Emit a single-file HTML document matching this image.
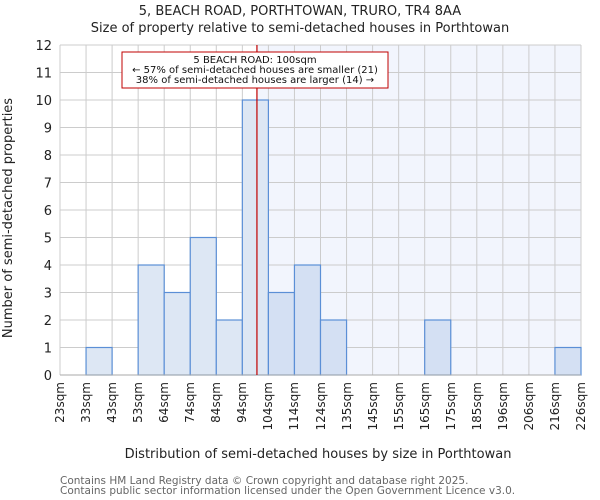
<!DOCTYPE html>
<html><head><meta charset="utf-8"><style>
body{margin:0;background:#fff;font-family:"DejaVu Sans","Liberation Sans",sans-serif}
svg text{font-family:"DejaVu Sans","Liberation Sans",sans-serif}
#wrap{position:relative;width:600px;height:500px;overflow:hidden}
.xt{position:absolute;top:382px;font-size:12px;color:#222;writing-mode:vertical-rl;transform:rotate(180deg);line-height:14px;white-space:nowrap}
</style></head><body>
<div id="wrap">
<svg id="c" width="600" height="500" xmlns="http://www.w3.org/2000/svg" style="position:absolute;left:0;top:0"></svg>
</div>
<script>
const tickLabels=["23sqm","33sqm","43sqm","53sqm","64sqm","74sqm","84sqm","94sqm","104sqm","114sqm","124sqm","135sqm","145sqm","155sqm","165sqm","175sqm","185sqm","196sqm","206sqm","216sqm","226sqm"];
const counts=[0,1,0,4,3,5,2,10,3,4,2,0,0,0,2,0,0,0,0,1];
const yTicks=[0,1,2,3,4,5,6,7,8,9,10,11,12];
const markerBin=7.56;
const NS="http://www.w3.org/2000/svg";
const svg=document.getElementById('c');
const wrap=document.getElementById('wrap');
const L=60,R=581,T=45,B=375,yMax=12;
const bw=(R-L)/counts.length;
const xs=i=>L+i*bw;
const ys=v=>B-(v/yMax)*(B-T);
function mk(tag,attrs,txt){const e=document.createElementNS(NS,tag);for(const k in attrs)e.setAttribute(k,attrs[k]);if(txt!==undefined)e.textContent=txt;svg.appendChild(e);return e;}
const mx=xs(markerBin);
let e=mk('rect',{x:mx,y:T,width:R-mx,height:B-T,fill:'#f2f5fd'});


for(let i=0;i<=tickLabels.length-1;i++){e=mk('line',{x1:xs(i),x2:xs(i),y1:T,y2:B,stroke:'#cccccc','stroke-width':1});

}
yTicks.forEach(v=>{e=mk('line',{x1:L,x2:R,y1:ys(v),y2:ys(v),stroke:'#cccccc','stroke-width':1});


e=mk('text',{x:L-8,y:ys(v)+5,'text-anchor':'end','font-size':13,fill:'#222'},v);

});
counts.forEach((c,i)=>{if(c<=0)return;const left=i+0.5<markerBin;e=mk('rect',{x:xs(i),y:ys(c),width:bw,height:B-ys(c),fill:left?'#dde7f4':'#d4e0f3',stroke:'#5b8fd6','stroke-width':1.2});

});
e=mk('line',{x1:L,x2:R,y1:B,y2:B,stroke:'#aaaaaa','stroke-width':1});


tickLabels.forEach((t,i)=>{const d=document.createElement('div');d.className='xt';d.textContent=t;d.style.left=(xs(i)-7)+'px';


wrap.appendChild(d);});
e=mk('line',{x1:mx,x2:mx,y1:T,y2:B,stroke:'#c00000','stroke-width':1.2});


e=mk('rect',{x:122,y:52,width:266,height:36,fill:'#fff',stroke:'#c00000','stroke-width':1});


[["5 BEACH ROAD: 100sqm",63],["← 57% of semi-detached houses are smaller (21)",73],["38% of semi-detached houses are larger (14) →",83]].forEach(a=>{e=mk('text',{x:255,y:a[1],'text-anchor':'middle','font-size':10,fill:'#111'},a[0]);

});
e=mk('text',{x:300,y:15,'text-anchor':'middle','font-size':13,fill:'#222'},"5, BEACH ROAD, PORTHTOWAN, TRURO, TR4 8AA");


e=mk('text',{x:300,y:32,'text-anchor':'middle','font-size':13,fill:'#222'},"Size of property relative to semi-detached houses in Porthtowan");


e=mk('text',{x:12,y:218,'text-anchor':'middle','font-size':13,fill:'#222',transform:'rotate(-90 12 218)'},"Number of semi-detached properties");


e=mk('text',{x:318,y:458,'text-anchor':'middle','font-size':13,fill:'#222'},"Distribution of semi-detached houses by size in Porthtowan");


e=mk('text',{x:60,y:484,'font-size':10.5,fill:'#666'},"Contains HM Land Registry data © Crown copyright and database right 2025.");


e=mk('text',{x:60,y:494,'font-size':10.5,fill:'#666'},"Contains public sector information licensed under the Open Government Licence v3.0.");


</script>
</body></html>
